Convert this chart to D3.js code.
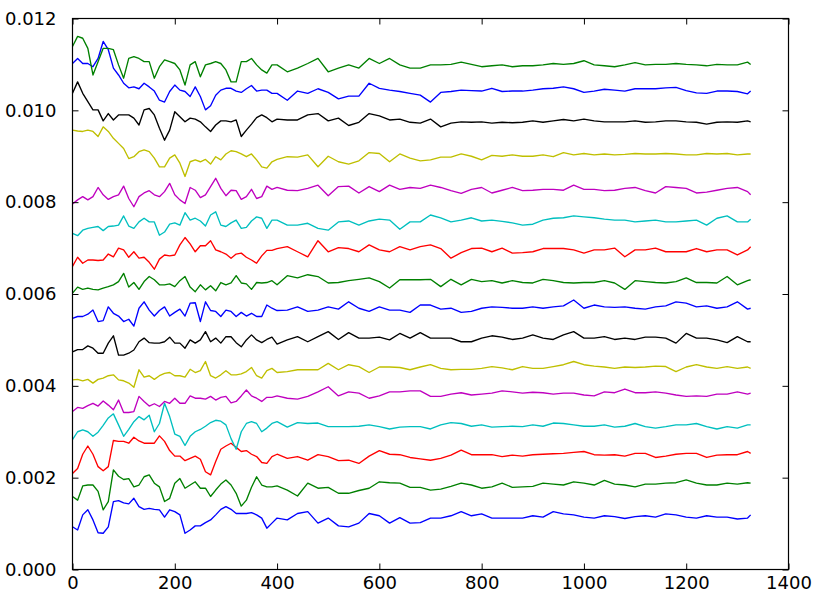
<!DOCTYPE html>
<html lang="en">
<head>
  <meta charset="UTF-8">
  <title>Sixteen series</title>
  <script src="https://d3js.org/d3.v7.min.js"></script>
  <style>
    body { margin: 0; background: #fff; }
    svg { display: block; }
    .tick text { font-family: "DejaVu Sans", sans-serif; font-size: 18px; fill: #000; }
    .tick line { stroke: #000; stroke-width: 1; }
    .domain { display: none; }
    .series { fill: none; stroke-width: 1.35; stroke-linejoin: round; }
    .frame { fill: none; stroke: #000; stroke-width: 1.2; }
  </style>
</head>
<body>
  <svg width="814" height="593"></svg>

  <script>
    const xs = d3.range(0, 400, 10).concat(d3.range(400, 1321, 20), [1326]);

    const xTicks = [0, 200, 400, 600, 800, 1000, 1200, 1400];
    const yTicks = [0, 0.002, 0.004, 0.006, 0.008, 0.010, 0.012];

    // series from the bottom (blue) up to the top (green)
    const s01 = [
      .00093,.00086,.00119,.00130,.00108,.00080,.00079,.00093,.00148,.00150,
      .00145,.00143,.00155,.00137,.00131,.00133,.00131,.00130,.00114,.00130,
      .00126,.00119,.00079,.00086,.00095,.00095,.00102,.00108,.00119,.00131,
      .00137,.00131,.00122,.00122,.00122,.00124,.00119,.00112,.00090,.00101,
      .00112,.00108,.00122,.00126,
      .00101,.00112,.00095,.00093,.00101,.00122,.00117,.00101,.00113,.00101,.00102,.00112,
      .00112,.00117,.00126,.00117,.00121,.00112,.00112,.00112,.00112,.00117,.00114,
      .00126,.00121,.00119,.00114,.00112,.00117,.00115,.00111,.00115,.00117,
      .00114,.00121,.00119,.00114,.00112,.00117,.00114,.00114,.00110,.00112,
      .00119];
    const s02 = [
      .00159,.00151,.00182,.00184,.00184,.00170,.00130,.00148,.00217,.00203,
      .00196,.00198,.00180,.00184,.00202,.00206,.00188,.00180,.00148,.00155,
      .00188,.00198,.00177,.00184,.00191,.00177,.00177,.00159,.00173,.00186,
      .00195,.00184,.00166,.00138,.00151,.00179,.00202,.00184,.00180,.00180,
      .00182,.00173,.00160,.00188,
      .00177,.00179,.00166,.00166,.00172,.00177,.00191,.00189,.00188,.00179,.00179,.00173,
      .00175,.00181,.00188,.00184,.00177,.00180,.00188,.00179,.00180,.00181,.00188,
      .00186,.00184,.00191,.00188,.00184,.00194,.00186,.00184,.00180,.00186,
      .00186,.00188,.00189,.00195,.00188,.00184,.00184,.00188,.00186,.00189,
      .00188];
    const s03 = [
      .00209,.00220,.00251,.00269,.00251,.00224,.00215,.00224,.00281,.00279,
      .00279,.00275,.00288,.00280,.00275,.00275,.00275,.00291,.00279,.00259,
      .00247,.00247,.00237,.00242,.00247,.00240,.00213,.00206,.00235,.00262,
      .00269,.00275,.00266,.00257,.00259,.00251,.00246,.00233,.00231,.00246,
      .00251,.00242,.00246,.00238,
      .00250,.00246,.00237,.00238,.00231,.00247,.00259,.00251,.00250,.00244,.00241,.00238,
      .00242,.00249,.00260,.00250,.00250,.00250,.00246,.00249,.00247,.00250,.00251,
      .00252,.00253,.00255,.00257,.00250,.00249,.00250,.00247,.00253,.00253,
      .00244,.00247,.00251,.00253,.00253,.00244,.00249,.00250,.00250,.00257,
      .00253];
    const s04 = [
      .00283,.00300,.00304,.00300,.00290,.00299,.00314,.00330,.00339,.00315,
      .00290,.00305,.00322,.00333,.00326,.00336,.00300,.00318,.00362,.00333,
      .00295,.00290,.00270,.00290,.00300,.00305,.00312,.00320,.00325,.00323,
      .00315,.00285,.00262,.00300,.00318,.00322,.00318,.00300,.00308,.00318,
      .00322,.00310,.00320,.00318,
      .00319,.00311,.00311,.00311,.00312,.00315,.00311,.00306,.00310,.00311,.00311,.00306,
      .00315,.00320,.00318,.00312,.00315,.00310,.00311,.00312,.00311,.00315,.00312,
      .00319,.00318,.00315,.00312,.00312,.00315,.00310,.00312,.00318,.00311,
      .00308,.00311,.00315,.00315,.00318,.00311,.00306,.00311,.00308,.00315,
      .00315];
    const s05 = [
      .00344,.00353,.00351,.00357,.00362,.00356,.00367,.00358,.00348,.00369,
      .00342,.00342,.00344,.00377,.00366,.00356,.00361,.00355,.00366,.00362,
      .00373,.00362,.00362,.00378,.00373,.00373,.00371,.00377,.00369,.00375,
      .00377,.00363,.00366,.00378,.00391,.00378,.00373,.00366,.00375,.00375,
      .00378,.00373,.00371,.00377,
      .00387,.00398,.00378,.00387,.00384,.00373,.00378,.00387,.00387,.00389,.00389,.00377,
      .00377,.00382,.00385,.00380,.00382,.00384,.00389,.00387,.00384,.00386,.00385,
      .00382,.00384,.00384,.00380,.00378,.00387,.00385,.00393,.00385,.00385,
      .00387,.00384,.00380,.00377,.00378,.00377,.00382,.00382,.00387,.00382,
      .00384];
    const s06 = [
      .00413,.00414,.00411,.00414,.00406,.00414,.00417,.00422,.00424,.00413,
      .00411,.00406,.00397,.00435,.00419,.00422,.00414,.00422,.00427,.00429,
      .00422,.00422,.00419,.00436,.00429,.00433,.00453,.00422,.00417,.00424,
      .00433,.00424,.00424,.00426,.00431,.00440,.00422,.00417,.00433,.00438,
      .00429,.00431,.00435,.00435,
      .00435,.00449,.00435,.00446,.00442,.00429,.00441,.00441,.00440,.00435,.00441,.00446,
      .00438,.00435,.00436,.00436,.00438,.00442,.00439,.00435,.00442,.00438,.00438,
      .00442,.00446,.00453,.00446,.00443,.00441,.00438,.00441,.00440,.00441,
      .00443,.00442,.00431,.00441,.00446,.00441,.00438,.00442,.00438,.00441,
      .00438];
    const s07 = [
      .00474,.00479,.00479,.00487,.00482,.00471,.00471,.00493,.00509,.00467,
      .00467,.00471,.00478,.00496,.00504,.00494,.00493,.00493,.00496,.00506,
      .00493,.00493,.00482,.00500,.00493,.00500,.00518,.00496,.00504,.00493,
      .00507,.00507,.00494,.00485,.00500,.00511,.00500,.00494,.00501,.00506,
      .00491,.00500,.00507,.00496,
      .00507,.00518,.00501,.00516,.00504,.00504,.00506,.00500,.00514,.00504,.00516,.00504,
      .00504,.00504,.00496,.00496,.00504,.00509,.00506,.00501,.00504,.00511,.00504,
      .00501,.00511,.00518,.00504,.00504,.00507,.00501,.00504,.00501,.00506,
      .00506,.00504,.00493,.00514,.00504,.00504,.00500,.00494,.00507,.00496,
      .00496];
    const s08 = [
      .00547,.00551,.00551,.00556,.00565,.00540,.00542,.00572,.00558,.00552,
      .00540,.00545,.00530,.00569,.00583,.00565,.00552,.00564,.00572,.00552,
      .00560,.00567,.00552,.00580,.00581,.00540,.00583,.00564,.00562,.00551,
      .00565,.00562,.00551,.00560,.00552,.00558,.00551,.00551,.00576,.00569,
      .00564,.00565,.00572,.00562,
      .00565,.00572,.00567,.00583,.00569,.00562,.00572,.00565,.00565,.00560,.00576,.00576,
      .00567,.00569,.00560,.00562,.00569,.00572,.00571,.00569,.00569,.00572,.00569,
      .00572,.00574,.00587,.00569,.00576,.00572,.00571,.00572,.00569,.00567,
      .00572,.00574,.00583,.00580,.00572,.00574,.00569,.00572,.00583,.00567,
      .00569];
    const s09 = [
      .00602,.00615,.00610,.00613,.00610,.00609,.00613,.00616,.00620,.00627,
      .00645,.00615,.00625,.00610,.00627,.00638,.00631,.00620,.00620,.00622,
      .00616,.00629,.00638,.00615,.00605,.00620,.00609,.00618,.00607,.00625,
      .00620,.00624,.00640,.00624,.00622,.00610,.00625,.00624,.00625,.00629,
      .00620,.00640,.00635,.00642,
      .00638,.00624,.00625,.00629,.00632,.00635,.00627,.00613,.00631,.00631,.00631,.00632,
      .00616,.00632,.00620,.00632,.00627,.00629,.00624,.00629,.00625,.00624,.00632,
      .00629,.00625,.00624,.00625,.00625,.00629,.00624,.00610,.00629,.00627,
      .00625,.00624,.00627,.00635,.00625,.00625,.00624,.00638,.00620,.00629,
      .00631];
    const s10 = [
      .00660,.00680,.00667,.00674,.00674,.00673,.00674,.00687,.00681,.00700,
      .00696,.00680,.00692,.00678,.00680,.00669,.00654,.00676,.00685,.00683,
      .00685,.00707,.00723,.00709,.00692,.00705,.00705,.00716,.00696,.00692,
      .00687,.00678,.00687,.00689,.00680,.00674,.00667,.00683,.00695,.00695,
      .00699,.00703,.00692,.00681,
      .00716,.00692,.00701,.00699,.00692,.00707,.00696,.00692,.00703,.00696,.00703,.00707,
      .00699,.00678,.00690,.00699,.00700,.00692,.00700,.00689,.00690,.00692,.00699,
      .00699,.00699,.00696,.00689,.00696,.00696,.00700,.00681,.00696,.00696,
      .00700,.00692,.00692,.00692,.00699,.00692,.00696,.00696,.00685,.00696,
      .00703];
    const s11 = [
      .00732,.00727,.00739,.00743,.00745,.00747,.00738,.00747,.00748,.00750,
      .00770,.00748,.00743,.00757,.00765,.00757,.00757,.00728,.00735,.00752,
      .00755,.00750,.00777,.00761,.00765,.00759,.00748,.00772,.00779,.00750,
      .00747,.00755,.00761,.00743,.00745,.00759,.00768,.00765,.00743,.00761,
      .00761,.00750,.00750,.00754,
      .00743,.00739,.00757,.00759,.00750,.00759,.00763,.00761,.00741,.00757,.00757,.00772,
      .00766,.00757,.00761,.00766,.00759,.00761,.00758,.00755,.00750,.00752,.00761,
      .00765,.00766,.00770,.00768,.00766,.00763,.00761,.00761,.00757,.00759,
      .00761,.00757,.00757,.00759,.00761,.00750,.00765,.00770,.00757,.00757,
      .00763];
    const s12 = [
      .00796,.00805,.00812,.00805,.00812,.00832,.00816,.00806,.00812,.00816,
      .00835,.00808,.00790,.00812,.00820,.00825,.00816,.00812,.00823,.00841,
      .00816,.00805,.00797,.00832,.00826,.00810,.00816,.00834,.00852,.00830,
      .00814,.00826,.00825,.00806,.00812,.00828,.00808,.00812,.00835,.00828,
      .00832,.00826,.00825,.00830,
      .00837,.00814,.00834,.00835,.00820,.00834,.00823,.00837,.00828,.00832,.00830,.00837,
      .00832,.00825,.00819,.00828,.00832,.00820,.00826,.00832,.00825,.00826,.00828,
      .00828,.00826,.00837,.00828,.00828,.00825,.00826,.00830,.00832,.00825,
      .00820,.00834,.00832,.00830,.00820,.00822,.00826,.00830,.00832,.00823,
      .00816];
    const s13 = [
      .00957,.00955,.00954,.00957,.00954,.00943,.00964,.00954,.00939,.00928,
      .00917,.00895,.00899,.00910,.00914,.00910,.00896,.00877,.00877,.00896,
      .00903,.00885,.00856,.00888,.00892,.00888,.00893,.00883,.00899,.00892,
      .00905,.00912,.00910,.00905,.00899,.00905,.00892,.00877,.00874,.00888,
      .00893,.00899,.00898,.00903,
      .00877,.00900,.00888,.00883,.00890,.00908,.00906,.00888,.00905,.00896,.00890,.00892,
      .00898,.00898,.00905,.00900,.00892,.00902,.00900,.00903,.00900,.00900,.00903,
      .00899,.00908,.00903,.00906,.00903,.00905,.00903,.00904,.00906,.00905,
      .00905,.00906,.00905,.00903,.00903,.00906,.00905,.00906,.00903,.00905,
      .00905];
    const s14 = [
      .01037,.01062,.01037,.01019,.01001,.01001,.00977,.00993,.00979,.00990,
      .00990,.00990,.00983,.00968,.01001,.01004,.00990,.00961,.00935,.00957,
      .00997,.00986,.00975,.00983,.00981,.00975,.00964,.00954,.00968,.00977,
      .00977,.00975,.00979,.00943,.00957,.00970,.00984,.00990,.00984,.00975,
      .00981,.00979,.00979,.00990,
      .00993,.00977,.00983,.00967,.00974,.00993,.00988,.00979,.00981,.00974,.00972,.00981,
      .00964,.00972,.00975,.00974,.00975,.00972,.00974,.00973,.00974,.00977,.00974,
      .00977,.00980,.00977,.00981,.00977,.00975,.00975,.00975,.00977,.00974,
      .00975,.00977,.00977,.00975,.00974,.00970,.00974,.00975,.00974,.00977,
      .00975];
    const s15 = [
      .01102,.01113,.01102,.01102,.01095,.01113,.01150,.01132,.01092,.01077,
      .01059,.01049,.01051,.01047,.01059,.01051,.01042,.01022,.01018,.01041,
      .01055,.01044,.01041,.01030,.01051,.01030,.01001,.01010,.01033,.01044,
      .01048,.01048,.01042,.01039,.01047,.01054,.01042,.01044,.01044,.01037,
      .01037,.01022,.01042,.01037,
      .01047,.01039,.01025,.01031,.01031,.01059,.01048,.01044,.01041,.01037,.01033,.01018,
      .01039,.01041,.01044,.01043,.01042,.01048,.01041,.01042,.01042,.01044,.01047,
      .01048,.01051,.01047,.01039,.01042,.01046,.01044,.01042,.01047,.01047,
      .01047,.01049,.01050,.01043,.01038,.01037,.01042,.01042,.01041,.01036,
      .01042];
    const s16 = [
      .01139,.01161,.01157,.01135,.01077,.01106,.01135,.01135,.01132,.01099,
      .01070,.01113,.01117,.01113,.01106,.01106,.01070,.01095,.01110,.01106,
      .01102,.01088,.01055,.01099,.01106,.01073,.01099,.01102,.01106,.01102,
      .01088,.01062,.01062,.01106,.01106,.01113,.01099,.01088,.01081,.01099,
      .01099,.01084,.01092,.01102,
      .01113,.01084,.01092,.01099,.01092,.01113,.01102,.01113,.01099,.01092,.01092,.01099,
      .01099,.01100,.01105,.01100,.01095,.01097,.01099,.01095,.01097,.01097,.01099,
      .01102,.01100,.01102,.01108,.01099,.01097,.01095,.01099,.01104,.01099,
      .01100,.01100,.01102,.01100,.01099,.01097,.01100,.01099,.01099,.01105,
      .01100];

    const series = [s01, s02, s03, s04, s05, s06, s07, s08,
                    s09, s10, s11, s12, s13, s14, s15, s16];

    // matplotlib classic colour cycle: b g r c m y k
    const colors = ["#0000ff", "#008000", "#ff0000", "#00bfbf", "#bf00bf", "#bfbf00", "#000000"];

    const svg = d3.select("svg");
    const plotLeft = 72.5, plotRight = 788.5, plotTop = 18.5, plotBottom = 569.5;

    const x = d3.scaleLinear().domain([0, 1400]).range([plotLeft, plotRight]);
    const y = d3.scaleLinear().domain([0, 0.012]).range([plotBottom, plotTop]);

    const line = d3.line()
      .x((d, i) => x(xs[i]))
      .y(d => y(d));

    svg.append("g")
      .selectAll("path")
      .data(series)
      .join("path")
      .attr("class", "series")
      .attr("stroke", (d, i) => colors[i % colors.length])
      .attr("d", line);

    // ticks point inward on all four sides
    svg.append("g")
      .attr("transform", `translate(0,${plotBottom})`)
      .call(d3.axisBottom(x).tickValues(xTicks).tickSize(-6).tickPadding(7).tickFormat(d3.format("d")));

    svg.append("g")
      .attr("transform", `translate(0,${plotTop})`)
      .call(d3.axisTop(x).tickValues(xTicks).tickSize(-6).tickFormat(""));

    svg.append("g")
      .attr("transform", `translate(${plotLeft},0)`)
      .call(d3.axisLeft(y).tickValues(yTicks).tickSize(-6).tickPadding(16).tickFormat(d3.format(".3f")));

    svg.append("g")
      .attr("transform", `translate(${plotRight},0)`)
      .call(d3.axisRight(y).tickValues(yTicks).tickSize(-6).tickFormat(""));

    svg.append("rect")
      .attr("class", "frame")
      .attr("x", plotLeft)
      .attr("y", plotTop)
      .attr("width", plotRight - plotLeft)
      .attr("height", plotBottom - plotTop);
  </script>
</body>
</html>
